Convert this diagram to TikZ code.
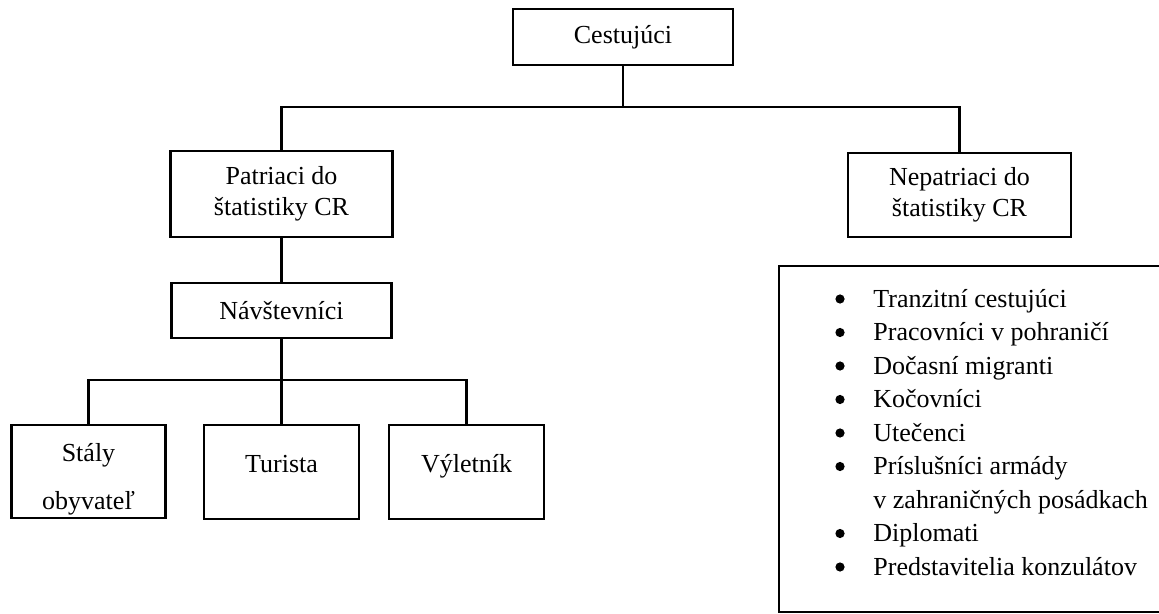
\documentclass[tikz,border=0pt]{standalone}
\usepackage{fontspec}
\setmainfont{Liberation Serif}
\usetikzlibrary{positioning}

\tikzset{
  box/.style={draw, line width=1.2pt, align=center, inner sep=0pt,
    font=\fontsize{13}{15.5}\selectfont},
  oneline/.style={text height=9pt, text depth=9pt},
  link/.style={line width=1.2pt, line cap=rect},
  listitem/.style={inner sep=0pt, anchor=base west, font=\fontsize{13}{15.5}\selectfont}
}

\begin{document}
\begin{tikzpicture}[x=0.5pt, y=-0.5pt, line join=miter]
    \useasboundingbox (0,0) rectangle (1159,614);

    % top level
    \node[box, minimum width=110pt, minimum height=28pt] (cest) at (623,37) {Cestujúci};

    \node[box, minimum width=111pt, minimum height=43pt] (patr) at (281.5,194) {Patriaci do\\ štatistiky CR};
    \node[box, minimum width=111.5pt, minimum height=42pt] (nepatr) at (959.5,195) {Nepatriaci do\\ štatistiky CR};

    \node[box, minimum width=110pt, minimum height=27.5pt] (navst) at (281.5,310.5) {Návštevníci};

    % bottom row
    \node[box, minimum width=77pt, minimum height=46.5pt] (staly) at (88.5,471.5) {\rule{0pt}{16.5pt}Stály\\[8.5pt] obyvateľ};
    \node[box, oneline, minimum width=77.5pt, minimum height=47pt] (turista) at (281.5,472) {Turista};
    \node[box, oneline, minimum width=77.5pt, minimum height=47pt] (vylet) at (466.5,472) {Výletník};

    \coordinate (split) at (623,107);
    \coordinate (fork) at (281.5,380);

    \draw[link] (cest.south) -- (split);
    \draw[link] (patr.north) |- (split) -| (nepatr.north);
    \draw[link] (patr.south) -- (navst.north);
    \draw[link] (navst.south) -- (fork);
    \draw[link] (staly.north) |- (fork) -| (vylet.north);
    \draw[link] (fork) -- (turista.north);

    % list of the ones outside
    \draw[line width=1.2pt] (779,266) rectangle (1185,612);
    \foreach \b/\txt [count=\i from 0] in {1/Tranzitní cestujúci, 1/Pracovníci v pohraničí,
        1/Dočasní migranti, 1/Kočovníci, 1/Utečenci, 1/Príslušníci armády,
        0/v zahraničných posádkach, 1/Diplomati, 1/Predstavitelia konzulátov}{
      \node[listitem] (item\i) at (873,{307+33.5*\i}) {\txt};
      \ifnum\b=1 \fill (840,{299+33.5*\i}) circle (2.3pt); \fi
    }
\end{tikzpicture}
\end{document}
